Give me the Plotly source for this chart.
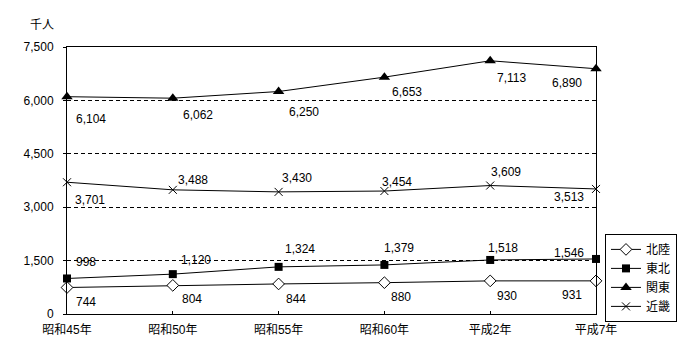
import plotly.graph_objects as go

categories = ["昭和45年", "昭和50年", "昭和55年", "昭和60年", "平成2年", "平成7年"]
hokuriku = [744, 804, 844, 880, 930, 931]
tohoku = [998, 1120, 1324, 1379, 1518, 1546]
kanto = [6104, 6062, 6250, 6653, 7113, 6890]
kinki = [3701, 3488, 3430, 3454, 3609, 3513]
series_names = ["北陸", "東北", "関東", "近畿"]
y_ticks = [0, 1500, 3000, 4500, 6000, 7500]
y_unit = "千人"

FONT = "Liberation Sans, Noto Sans CJK JP, sans-serif"

# label offsets (px) relative to each point: (dx, dy up)
label_offsets = {
    "北陸": [(19, -14), (19, -14), (17, -15), (17, -14), (17, -15), (-24, -14)],
    "東北": [(19, 16), (23, 14), (21, 18), (15, 17), (13, 12), (-27, 6)],
    "関東": [(24, -22), (25, -17), (25, -20), (23, -15), (21, -17), (-29, -14)],
    "近畿": [(23, -18), (20, 10), (18, 14), (13, 9), (16, 14), (-27, -8)],
}

marker_styles = {
    "北陸": dict(symbol="diamond", size=9, color="white", line=dict(color="black", width=1)),
    "東北": dict(symbol="square", size=8, color="black", line=dict(color="black", width=0)),
    "関東": dict(symbol="triangle-up", size=10, color="black", line=dict(color="black", width=0)),
    "近畿": dict(symbol="x-thin", size=8, color="black", line=dict(color="black", width=1)),
}

data = {"北陸": hokuriku, "東北": tohoku, "関東": kanto, "近畿": kinki}

fig = go.Figure()
annotations = []
for name in series_names:
    vals = data[name]
    fig.add_trace(go.Scatter(
        x=categories, y=vals, name=name, mode="lines+markers",
        line=dict(color="black", width=1),
        marker=marker_styles[name],
        cliponaxis=False,
    ))
    for i, (c, v) in enumerate(zip(categories, vals)):
        dx, dy = label_offsets[name][i]
        annotations.append(dict(
            x=c, y=v, xref="x", yref="y", text=f"{v:,}", showarrow=False,
            xshift=dx, yshift=dy, font=dict(family=FONT, size=12, color="black"),
        ))

annotations.append(dict(
    x=0, y=1, xref="paper", yref="paper", text=y_unit, showarrow=False,
    xanchor="right", yanchor="bottom", xshift=-11, yshift=13,
    font=dict(family=FONT, size=12, color="black"),
))

# page body has an 8px margin, so the figure is sized/placed to compensate
fig.update_layout(
    width=692, height=352,
    margin=dict(l=59, r=104, t=39, b=46, pad=0),
    paper_bgcolor="white", plot_bgcolor="white",
    font=dict(family=FONT, size=12, color="black"),
    annotations=annotations,
    showlegend=True,
    legend=dict(
        x=1.017, y=0.30, xanchor="left", yanchor="top",
        bordercolor="black", borderwidth=1, bgcolor="white",
        font=dict(family=FONT, size=12, color="black"),
        itemwidth=30, tracegroupgap=0,
    ),
    xaxis=dict(
        type="category", range=[0, 5], showgrid=False, zeroline=False,
        showline=True, linecolor="black", linewidth=1, mirror=True,
        ticks="inside", ticklen=3, tickcolor="black", ticklabelstandoff=5,
        tickfont=dict(family=FONT, size=12, color="black"),
    ),
    yaxis=dict(
        range=[0, 7500], tickvals=y_ticks, ticktext=[f"{t:,}" for t in y_ticks],
        showgrid=True, gridcolor="black", gridwidth=1, griddash="4px,3px",
        zeroline=False, showline=True, linecolor="black", linewidth=1, mirror=True,
        ticks="outside", ticklen=3, tickcolor="black", ticklabelstandoff=7,
        tickfont=dict(family=FONT, size=12, color="black"),
    ),
)

fig.write_html("out.html")
